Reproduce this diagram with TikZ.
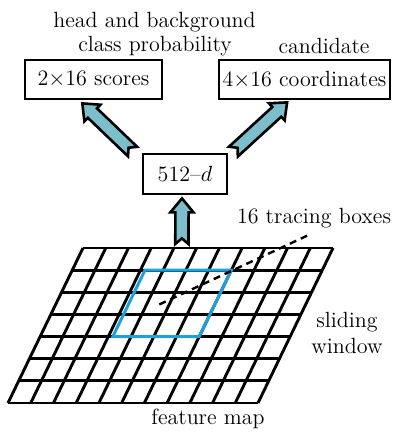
\documentclass[tikz,border=0pt]{standalone}
\usetikzlibrary{calc}
\definecolor{arrowfill}{RGB}{125,190,205}
\definecolor{winblue}{RGB}{30,160,220}
\tikzset{
  lbl/.style={font=\fontsize{11}{13}\selectfont, inner sep=0pt},
  boxnode/.style={draw, line width=1.4pt, minimum height=19.5pt, inner sep=1pt, font=\fontsize{11}{13}\selectfont},
  fatarrowstyle/.style={draw, fill=arrowfill, line width=1.3pt, line join=miter},
  gridline/.style={line width=1.45pt},
  window/.style={draw=winblue, line width=1.5pt},
  pointer/.style={line width=1.2pt, dash pattern=on 3.5pt off 2.5pt},
}
\newcommand\fatarrow[2]{%
  \coordinate (fa-b) at ($(#2)!7pt!(#1)$);
  \draw[fatarrowstyle]
    ($(#1)!3.3pt!90:(#2)$) -- ($(fa-b)!3.3pt!90:(#2)$) -- ($(fa-b)!5.8pt!90:(#2)$)
    -- (#2)
    -- ($(fa-b)!5.8pt!-90:(#2)$) -- ($(fa-b)!3.3pt!-90:(#2)$) -- ($(#1)!3.3pt!-90:(#2)$)
    -- ($(#1)!2.8pt!(#2)$) -- cycle;
}
\begin{document}
\begin{tikzpicture}[x=0.5pt,y=-0.5pt]
\useasboundingbox (0,0) rectangle (397,432);

% text labels
\node[lbl] (hb) at (154.5,22) {head and background};
\node[lbl] (cp) at (155,46) {class probability};
\node[lbl] (cand) at (324,46) {candidate};

% boxes
\node[boxnode, minimum width=68.5pt] (scores) at (93.5,79.5) {2$\times$16 scores};
\node[boxnode, minimum width=85.5pt] (coords) at (304.5,79.5) {4$\times$16 coordinates};
\node[boxnode, minimum width=42pt, minimum height=20pt] (dbox) at (185,174) {512--$d$};

% grid (feature map)
\begin{scope}[shift={(83,248)}, x={(11.3636pt,0pt)}, y={(-5.3571pt,-11.0714pt)}]
  \foreach \r in {0,...,7} \draw[gridline] (0,\r) -- (11,\r);
  \foreach \c in {0,...,11} \draw[gridline] (\c,0) -- (\c,7);
  \draw[window] (3.2,1) -- (7,1) -- (7,4) -- (3.2,4) -- cycle;
  \coordinate (gridtop) at (4.35,0);
  \coordinate (dstart) at (4.56,2.55);
\end{scope}

\node[lbl] (tb) at (314,218) {16 tracing boxes};
\node[lbl] (sl) at (347,322) {sliding};
\node[lbl] (win) at (347,346) {window};
\node[lbl] (fm) at (208,419) {feature map};

% dashed pointer
\coordinate (dend) at ($(tb.south)+(-6,7)$);
\draw[pointer] (dstart) -- (dend);

% arrows
\coordinate (btail) at ($(gridtop)+(0,-4)$);
\coordinate (btip) at ($(dbox.south)+(-3,3)$);
\fatarrow{btail}{btip}
\coordinate (ltail) at ($(dbox.north west)+(-9,-1)$);
\coordinate (ltip) at ($(scores.south west)!0.42!(scores.south east)+(0,3)$);
\fatarrow{ltail}{ltip}
\coordinate (rtail) at ($(dbox.north east)+(5,-1)$);
\coordinate (rtip) at ($(coords.south west)!0.4!(coords.south east)+(0,2)$);
\fatarrow{rtail}{rtip}
\end{tikzpicture}
\end{document}
